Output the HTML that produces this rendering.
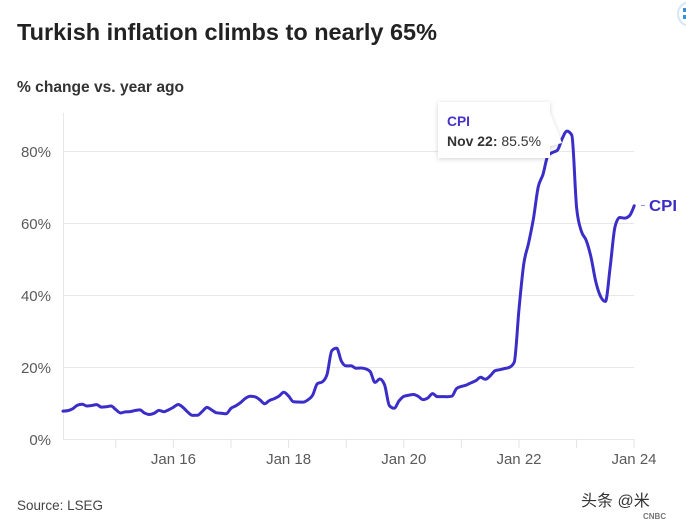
<!DOCTYPE html>
<html>
<head>
<meta charset="utf-8">
<style>
  html,body{margin:0;padding:0;background:#fff;}
  svg{display:block;}
  text{font-family:"Liberation Sans","Noto Sans CJK SC",sans-serif;}
</style>
</head>
<body>
<svg id="chart" width="686" height="525" viewBox="0 0 686 525" xmlns="http://www.w3.org/2000/svg">
  <defs>
    <filter id="sh" x="-20%" y="-30%" width="140%" height="160%">
      <feDropShadow dx="0" dy="1" stdDeviation="2.5" flood-color="#000" flood-opacity="0.18"/>
    </filter>
  </defs>
  <rect width="686" height="525" fill="#fff"/>

  <!-- corner icon -->
  <circle cx="690" cy="14" r="12" fill="none" stroke="#d6e6f5" stroke-width="2"/>
  <rect x="683" y="8" width="3" height="4" fill="#3b8fd6"/>
  <rect x="683" y="15" width="3" height="4" fill="#3b8fd6"/>

  <!-- title -->
  <text x="17" y="40" font-size="23" font-weight="bold" fill="#222" textLength="420" lengthAdjust="spacingAndGlyphs">Turkish inflation climbs to nearly 65%</text>
  <text x="17" y="92" font-size="16" font-weight="bold" fill="#333" textLength="167" lengthAdjust="spacingAndGlyphs">% change vs. year ago</text>

  <!-- grid -->
  <g stroke="#e8e8e8" stroke-width="1">
    <line x1="63" y1="151.5" x2="634" y2="151.5"/>
    <line x1="63" y1="223.5" x2="634" y2="223.5"/>
    <line x1="63" y1="295.5" x2="634" y2="295.5"/>
    <line x1="63" y1="367.5" x2="634" y2="367.5"/>
    <line x1="63" y1="439.5" x2="634" y2="439.5"/>
    <line x1="63.5" y1="113" x2="63.5" y2="439"/>
  </g>
  <g stroke="#e3e3e3" stroke-width="1">
    <line x1="115.8" y1="439" x2="115.8" y2="448"/>
    <line x1="173.4" y1="439" x2="173.4" y2="448"/>
    <line x1="231" y1="439" x2="231" y2="448"/>
    <line x1="288.6" y1="439" x2="288.6" y2="448"/>
    <line x1="346.2" y1="439" x2="346.2" y2="448"/>
    <line x1="403.8" y1="439" x2="403.8" y2="448"/>
    <line x1="461.4" y1="439" x2="461.4" y2="448"/>
    <line x1="519" y1="439" x2="519" y2="448"/>
    <line x1="576.6" y1="439" x2="576.6" y2="448"/>
    <line x1="634" y1="439" x2="634" y2="448"/>
  </g>

  <!-- y labels -->
  <g font-size="15" fill="#5a5a5a" text-anchor="end">
    <text x="51" y="445">0%</text>
    <text x="51" y="373">20%</text>
    <text x="51" y="301">40%</text>
    <text x="51" y="229">60%</text>
    <text x="51" y="157">80%</text>
  </g>
  <!-- x labels -->
  <g font-size="15" fill="#5a5a5a" text-anchor="middle">
    <text x="173.4" y="464">Jan 16</text>
    <text x="288.6" y="464">Jan 18</text>
    <text x="403.8" y="464">Jan 20</text>
    <text x="519" y="464">Jan 22</text>
    <text x="634" y="464">Jan 24</text>
  </g>

  <!-- data line -->
  <g id="lineg" transform="translate(63,439) scale(4.8,-3.6)">
    <polyline id="pl" fill="none" stroke="#3b2ec8" stroke-width="3" stroke-linejoin="round" stroke-linecap="round" vector-effect="non-scaling-stroke"
      points="0,7.75 1,7.89 2,8.39 3,9.38 4,9.66 5,9.16 6,9.32 7,9.54 8,8.86 9,8.96 10,9.15 11,8.17
12,7.24 13,7.55 14,7.61 15,7.91 16,8.09 17,7.20 18,6.81 19,7.14 20,7.95 21,7.58 22,8.10 23,8.81
24,9.58 25,8.78 26,7.46 27,6.57 28,6.58 29,7.64 30,8.79 31,8.05 32,7.28 33,7.16 34,7.00 35,8.53
36,9.22 37,10.13 38,11.29 39,11.87 40,11.72 41,10.90 42,9.79 43,10.68 44,11.20 45,11.90 46,12.98 47,11.92
48,10.35 49,10.26 50,10.23 51,10.85 52,12.15 53,15.39 54,15.85 55,17.90 56,24.52 57,25.24 58,21.62 59,20.30
60,20.35 61,19.67 62,19.71 63,19.50 64,18.71 65,15.72 66,16.65 67,15.01 68,9.26 69,8.55 70,10.56 71,11.84
72,12.15 73,12.37 74,11.86 75,10.94 76,11.39 77,12.62 78,11.76 79,11.77 80,11.75 81,11.89 82,14.03 83,14.60
84,14.97 85,15.61 86,16.19 87,17.14 88,16.59 89,17.53 90,18.95 91,19.25 92,19.58 93,19.89 94,21.31 95,36.08
96,48.69 97,54.44 98,61.14 99,69.97 100,73.50 101,78.62 102,79.60 103,80.21 104,83.45 105,85.51 106,84.39 107,64.27
108,57.68 109,55.18 110,50.51 111,43.68 112,39.59 113,38.21 114,47.83 115,58.94 116,61.53 117,61.36 118,61.98 119,64.77"/>
  </g>

  <!-- end label -->
  <line x1="641" y1="205.5" x2="645" y2="205.5" stroke="#9a92dd" stroke-width="1"/>
  <text x="649" y="211" font-size="16" font-weight="bold" fill="#3b2ec8" textLength="28" lengthAdjust="spacingAndGlyphs">CPI</text>

  <!-- tooltip -->
  <path d="M438,102 H550 V113 L562,143 L550,146 V158 H438 Z" fill="#fff" filter="url(#sh)"/>
  <text x="447" y="126" font-size="14" font-weight="bold" fill="#4633c6" textLength="23" lengthAdjust="spacingAndGlyphs">CPI</text>
  <text x="447" y="146" font-size="14" fill="#333" textLength="94" lengthAdjust="spacingAndGlyphs"><tspan font-weight="bold">Nov 22:</tspan> 85.5%</text>

  <!-- source -->
  <text x="17" y="510" font-size="14" fill="#444" textLength="86" lengthAdjust="spacingAndGlyphs">Source: LSEG</text>

  <!-- watermark -->
  <text x="581" y="506" font-size="16" fill="#333" font-family="'Noto Sans CJK SC',sans-serif">头条 @米</text>
  <text x="643" y="519" font-size="8" font-weight="bold" fill="#777">CNBC</text>
</svg>
<script>
(function(){
  try{
    var pl=document.getElementById('pl');
    var raw=pl.getAttribute('points').trim().split(/\s+/);
    var X=[],Y=[];
    for(var k=0;k<raw.length;k++){var p=raw[k].split(',');X.push(63+4.8*parseFloat(p[0]));Y.push(439-3.6*parseFloat(p[1]));}
    var n=X.length,s=[],m=[];
    for(var i=0;i<n-1;i++){s.push((Y[i+1]-Y[i])/(X[i+1]-X[i]));}
    function sign(a){return a<0?-1:1;}
    for(var i=1;i<n-1;i++){
      var s0=s[i-1],s1=s[i],h0=X[i]-X[i-1],h1=X[i+1]-X[i];
      var p=(s0*h1+s1*h0)/(h0+h1);
      m[i]=(sign(s0)+sign(s1))*Math.min(Math.abs(s0),Math.abs(s1),0.5*Math.abs(p))||0;
    }
    m[0]=(3*s[0]-m[1])/2;
    m[n-1]=(3*s[n-2]-m[n-2])/2;
    var d='M'+X[0].toFixed(2)+','+Y[0].toFixed(2);
    for(var i=0;i<n-1;i++){
      var dx=(X[i+1]-X[i])/3;
      d+='C'+(X[i]+dx).toFixed(2)+','+(Y[i]+dx*m[i]).toFixed(2)+' '+(X[i+1]-dx).toFixed(2)+','+(Y[i+1]-dx*m[i+1]).toFixed(2)+' '+X[i+1].toFixed(2)+','+Y[i+1].toFixed(2);
    }
    var ns='http://www.w3.org/2000/svg';
    var path=document.createElementNS(ns,'path');
    path.setAttribute('d',d);
    path.setAttribute('fill','none');
    path.setAttribute('stroke','#3b2ec8');
    path.setAttribute('stroke-width','3');
    path.setAttribute('stroke-linejoin','round');
    path.setAttribute('stroke-linecap','round');
    var g=document.getElementById('lineg');
    g.parentNode.insertBefore(path,g);
    g.parentNode.removeChild(g);
  }catch(e){}
})();
</script>
</body>
</html>
